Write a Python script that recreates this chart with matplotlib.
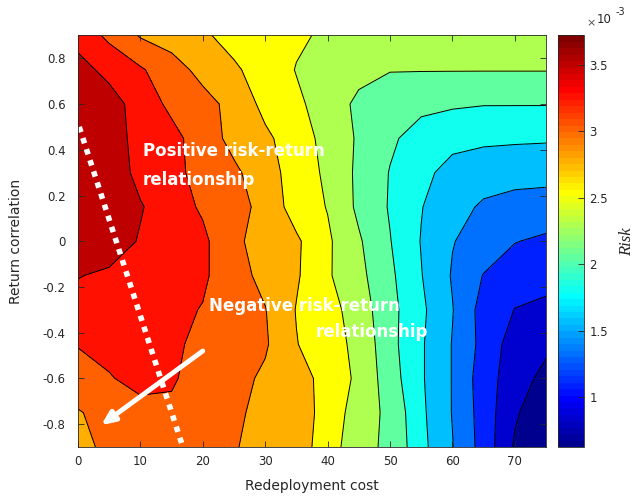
import numpy as np
import matplotlib.pyplot as plt
from matplotlib import colors, cm

# redeployment cost (x) and return correlation (y) grid
cost = [0, 5, 10, 15, 20, 25, 30, 35, 40, 45, 50, 55, 60, 65, 70, 75]
corr = [-0.9, -0.75, -0.6, -0.45, -0.3, -0.15, 0.0, 0.15, 0.3, 0.45, 0.6, 0.75, 0.9]

# risk in units of 1e-3, one list per correlation row (bottom to top)
risk_m090 = [2.910, 3.081, 3.138, 3.148, 3.119, 3.024, 2.910, 2.862, 2.672, 2.339, 2.262, 1.882, 1.587, 1.244, 0.834, 0.625]
risk_m075 = [2.986, 3.100, 3.195, 3.214, 3.148, 3.053, 2.929, 2.862, 2.700, 2.396, 2.243, 1.863, 1.567, 1.234, 0.892, 0.700]
risk_m060 = [3.167, 3.233, 3.291, 3.262, 3.176, 3.081, 2.967, 2.872, 2.681, 2.481, 2.167, 1.844, 1.567, 1.215, 0.968, 0.796]
risk_m045 = [3.253, 3.291, 3.310, 3.272, 3.205, 3.119, 3.034, 2.777, 2.624, 2.472, 2.129, 1.844, 1.567, 1.263, 0.987, 0.911]
risk_m030 = [3.405, 3.386, 3.348, 3.300, 3.233, 3.119, 3.015, 2.757, 2.624, 2.415, 2.129, 1.863, 1.587, 1.244, 1.096, 1.063]
risk_m015 = [3.491, 3.443, 3.386, 3.338, 3.281, 3.100, 2.938, 2.796, 2.558, 2.358, 2.101, 1.825, 1.558, 1.329, 1.196, 1.158]
risk_p000 = [3.671, 3.605, 3.462, 3.367, 3.291, 3.062, 2.891, 2.805, 2.567, 2.320, 2.063, 1.805, 1.587, 1.482, 1.349, 1.291]
risk_p015 = [3.690, 3.633, 3.500, 3.348, 3.214, 3.100, 2.929, 2.662, 2.519, 2.243, 2.034, 1.825, 1.653, 1.548, 1.510, 1.501]
risk_p030 = [3.700, 3.624, 3.414, 3.300, 3.176, 3.053, 2.862, 2.672, 2.481, 2.243, 2.043, 1.882, 1.729, 1.672, 1.644, 1.634]
risk_p045 = [3.720, 3.614, 3.386, 3.310, 3.138, 2.929, 2.815, 2.643, 2.453, 2.262, 2.091, 1.958, 1.891, 1.863, 1.853, 1.844]
risk_p060 = [3.690, 3.595, 3.367, 3.195, 3.081, 2.938, 2.700, 2.577, 2.415, 2.243, 2.167, 2.110, 2.082, 2.063, 2.063, 2.063]
risk_p075 = [3.576, 3.405, 3.272, 3.100, 2.938, 2.796, 2.681, 2.519, 2.434, 2.358, 2.301, 2.301, 2.301, 2.301, 2.301, 2.301]
risk_p090 = [3.386, 3.195, 2.986, 2.910, 2.796, 2.700, 2.624, 2.567, 2.491, 2.453, 2.434, 2.415, 2.405, 2.396, 2.396, 2.386]

cbar_ticks = [1, 1.5, 2, 2.5, 3, 3.5]
n_lines = 12

Z = np.array([risk_m090, risk_m075, risk_m060, risk_m045, risk_m030, risk_m015,
              risk_p000, risk_p015, risk_p030, risk_p045, risk_p060, risk_p075, risk_p090])
X, Y = np.meshgrid(cost, corr)
vmin, vmax = Z.min(), Z.max()


def matlab_jet(m=64):
    n = int(np.ceil(m / 4))
    u = np.concatenate([np.arange(1, n + 1) / n, np.ones(n - 1), np.arange(n, 0, -1) / n])
    g = int(np.ceil(n / 2)) - (m % 4 == 1) + np.arange(1, len(u) + 1)
    J = np.zeros((m, 3))
    for idx, ch in ((g + n, 0), (g, 1), (g - n, 2)):
        ok = (idx >= 1) & (idx <= m)
        J[idx[ok] - 1, ch] = u[ok]
    return J


jet64 = matlab_jet(64)
cmap = colors.ListedColormap(jet64)
norm = colors.Normalize(vmin=vmin, vmax=vmax)

# contour levels spread evenly over the data range, band coloured by its lower level
lines = np.linspace(vmin, vmax, n_lines + 2)[1:-1]
lower = np.concatenate([[vmin], lines])
band_idx = np.clip(np.floor((lower - vmin) / (vmax - vmin) * 64).astype(int), 0, 63)
band_colors = [jet64[i] for i in band_idx]
fill_levels = np.concatenate([[vmin - 1], lines, [vmax + 1]])

fig = plt.figure(figsize=(6.35, 4.97), dpi=100)
ax = fig.add_axes([0.1228, 0.1006, 0.7371, 0.828])
ax.contourf(X, Y, Z, levels=fill_levels, colors=band_colors)
ax.contour(X, Y, Z, levels=lines, colors='k', linewidths=0.7)

# dotted trend line and arrow
ax.plot([0.2, 16.8], [0.5, -0.9], color='white', lw=4, linestyle=(0, (1, 1.1)),
        dash_capstyle='butt')
ax.annotate('', xy=(3.7, -0.805), xytext=(20, -0.48),
            arrowprops=dict(arrowstyle='-|>,head_length=0.8,head_width=0.35',
                            color='white', lw=3.5, shrinkA=0, shrinkB=0))

txt = dict(color='white', fontsize=12, fontweight='bold', va='center')
ax.text(10.4, 0.395, 'Positive risk-return', **txt)
ax.text(10.4, 0.27, 'relationship', **txt)
ax.text(21.0, -0.285, 'Negative risk-return', **txt)
ax.text(38.0, -0.395, 'relationship', **txt)

ax.set_xlim(0, 75)
ax.set_ylim(-0.9, 0.9)
ax.set_xticks([0, 10, 20, 30, 40, 50, 60, 70])
ax.set_yticks([-0.8, -0.6, -0.4, -0.2, 0, 0.2, 0.4, 0.6, 0.8])
ax.set_yticklabels(['-0.8', '-0.6', '-0.4', '-0.2', '0', '0.2', '0.4', '0.6', '0.8'])
ax.tick_params(direction='in', top=True, right=True, length=4, width=0.6,
               colors='#262626', labelsize=8.5)
ax.tick_params(axis='y', pad=9)
ax.tick_params(axis='x', pad=6)
for s in ax.spines.values():
    s.set_color('#262626')
    s.set_linewidth(0.6)
ax.set_xlabel('Redeployment cost', fontsize=10, color='#262626', labelpad=8)
ax.set_ylabel('Return correlation', fontsize=10, color='#262626', labelpad=14)

cax = fig.add_axes([0.8787, 0.1006, 0.041, 0.828])
cb = fig.colorbar(cm.ScalarMappable(norm=norm, cmap=cmap), cax=cax, ticks=cbar_ticks)
cb.ax.set_yticklabels(['1', '1.5', '2', '2.5', '3', '3.5'])
cb.ax.tick_params(direction='in', length=4, width=0.6, colors='#262626',
                  labelsize=8.5, pad=4)
cb.outline.set_edgecolor('#262626')
cb.outline.set_linewidth(0.6)
cb.set_label('Risk', fontsize=12, family='Liberation Serif', style='italic',
             color='#262626', labelpad=8)
fig.text(0.923, 0.954, '\u00d7', fontsize=8, color='#505050', va='center')
fig.text(0.940, 0.961, '10', fontsize=8.5, color='#262626', va='center')
fig.text(0.969, 0.976, '-3', fontsize=7, color='#262626', va='center')

fig.savefig('out.png', dpi=100)
